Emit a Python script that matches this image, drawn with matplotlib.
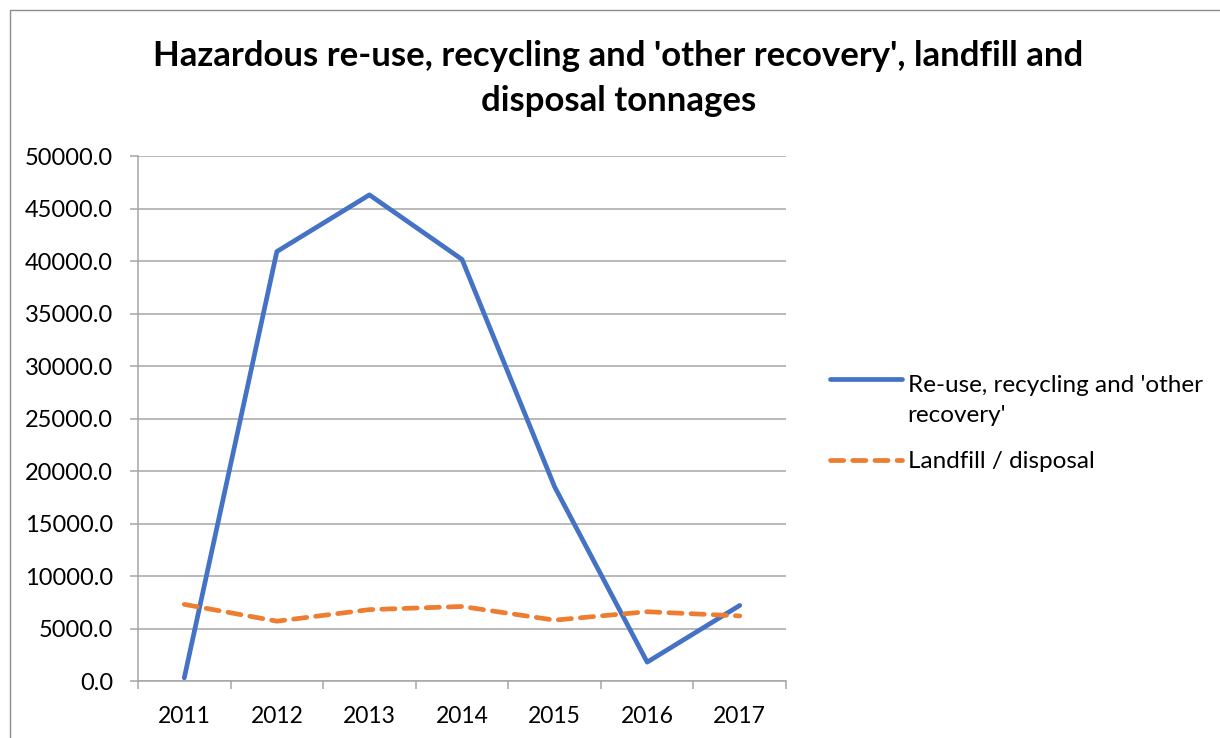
import matplotlib.pyplot as plt
from matplotlib.legend_handler import HandlerLine2D
from matplotlib.patches import Rectangle
from matplotlib.ticker import FixedLocator, FormatStrFormatter

years = ["2011", "2012", "2013", "2014", "2015", "2016", "2017"]
recovery = [300, 40900, 46300, 40150, 18500, 1800, 7200]
landfill = [7300, 5700, 6800, 7100, 5800, 6600, 6200]

BLUE = "#4472C4"
ORANGE = "#ED7D31"
GRID = "#A6A6A6"


class FirstLineHandler(HandlerLine2D):
    """Legend line sitting next to the first line of a wrapped label."""

    def __init__(self, shift, **kw):
        super().__init__(**kw)
        self.shift = shift

    def create_artists(self, *args, **kwargs):
        artists = super().create_artists(*args, **kwargs)
        for a in artists:
            a.set_ydata([y + self.shift for y in a.get_ydata()])
        return artists


plt.rcParams["font.family"] = ["Lato", "DejaVu Sans"]

fig = plt.figure(figsize=(12.2, 7.38), dpi=100)
ax = fig.add_axes([0.1131, 0.0772, 0.5312, 0.7114])

x = list(range(len(years)))
blue_line, = ax.plot(x, recovery, color=BLUE, lw=3.4, solid_capstyle="round",
                     solid_joinstyle="round",
                     label="Re-use, recycling and 'other\nrecovery'")
ax.plot(x, landfill, color=ORANGE, lw=3.4, dashes=(2.8, 1.9),
        dash_capstyle="round", label="Landfill / disposal")

ax.set_xlim(-0.5, len(years) - 0.5)
ax.set_ylim(0, 50000)
ax.set_yticks(range(0, 50001, 5000))
ax.yaxis.set_major_formatter(FormatStrFormatter("%.1f"))
ax.set_xticks(x)
ax.set_xticklabels(years)
ax.xaxis.set_minor_locator(FixedLocator([i - 0.5 for i in range(len(years) + 1)]))

ax.grid(axis="y", color=GRID, lw=1.1)
ax.set_axisbelow(True)
for side in ("top", "right"):
    ax.spines[side].set_visible(False)
for side in ("left", "bottom"):
    ax.spines[side].set_color(GRID)
    ax.spines[side].set_linewidth(1.1)

ax.tick_params(axis="y", length=6, width=1.1, color=GRID, pad=12,
               labelsize=17, labelcolor="#000000")
ax.tick_params(axis="x", which="major", length=0, pad=18,
               labelsize=16.5, labelcolor="#000000")
ax.tick_params(axis="x", which="minor", length=6, width=1.1, color=GRID)

fig.text(0.507, 0.894, "Hazardous re-use, recycling and 'other recovery', landfill and\ndisposal tonnages",
         ha="center", va="center", fontsize=25, fontweight="bold",
         linespacing=1.5)

leg = ax.legend(loc="center left", bbox_to_anchor=(1.0486, 0.49), frameon=False,
                fontsize=17.5, handlelength=2.97, handletextpad=0.24,
                labelspacing=1.04, borderpad=0,
                handler_map={blue_line: FirstLineHandler(shift=15.8)})
for t in leg.get_texts():
    t.set_linespacing(1.49)

# chart area frame
fig.patches.append(Rectangle((10 / 1220, -0.1), 1.2, 1 - 10 / 738 + 0.1,
                             transform=fig.transFigure, fill=False,
                             edgecolor="#8C8C8C", lw=1.0))

fig.savefig("out.png", dpi=100)
